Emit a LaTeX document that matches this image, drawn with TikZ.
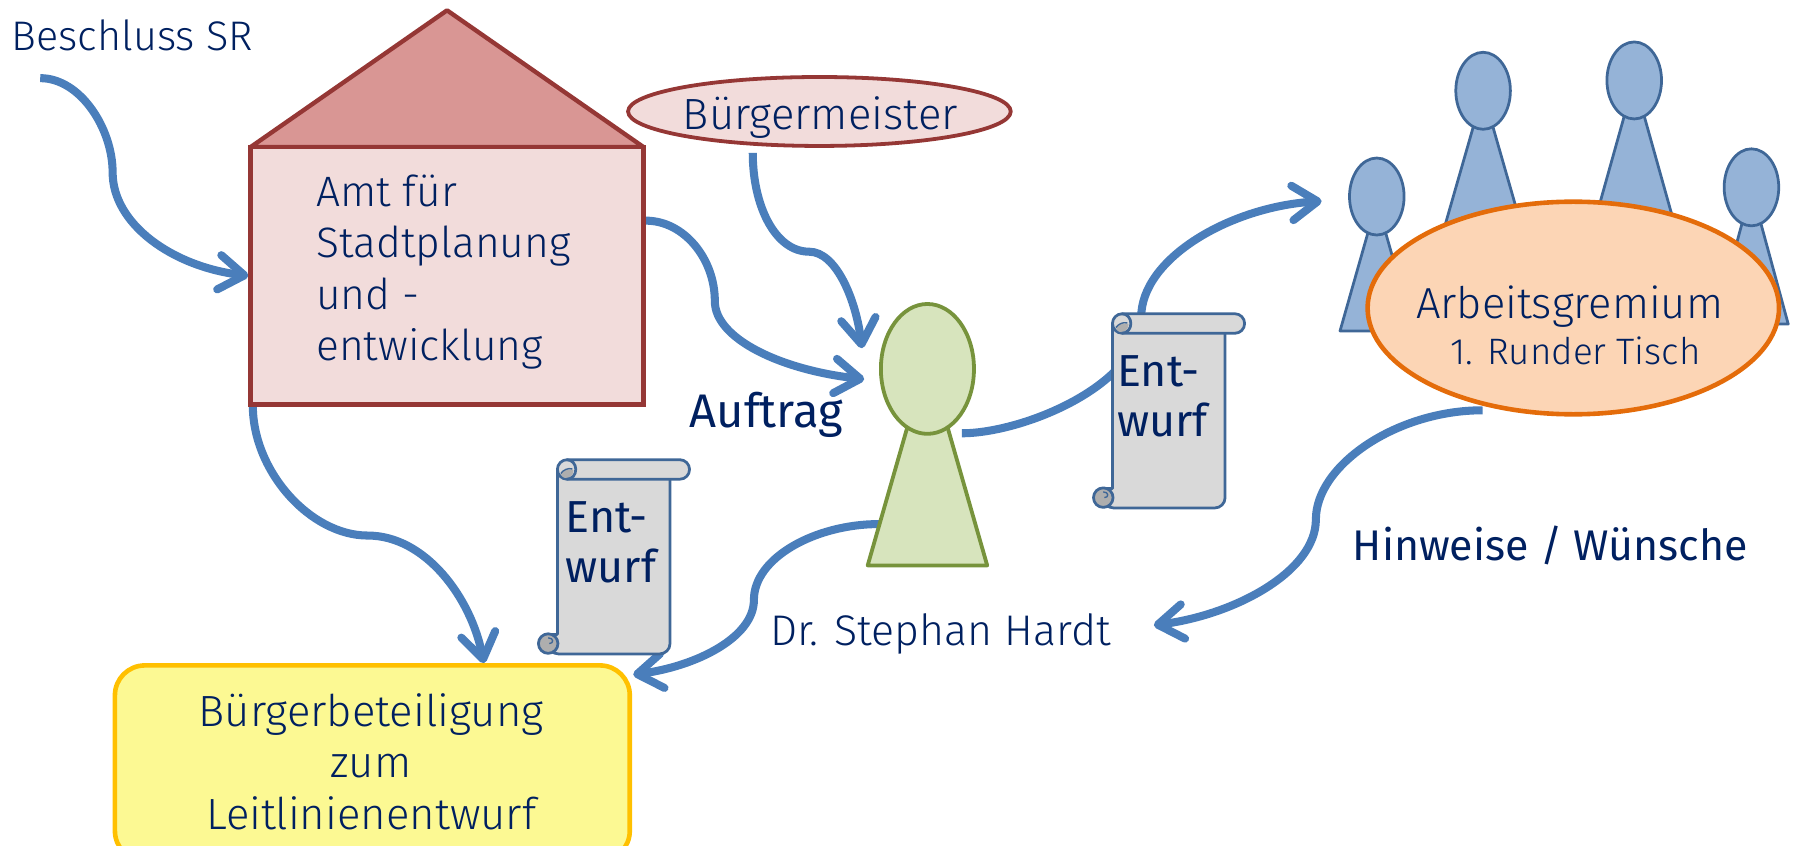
\documentclass[tikz,border=0pt]{standalone}
\usepackage{fontspec}
\setmainfont{Fira Sans Light}
\newfontfamily\regf{Fira Sans}
\usetikzlibrary{arrows.meta,shapes.geometric,backgrounds}
\definecolor{txt}{HTML}{002060}
\definecolor{flow}{HTML}{4A7EBB}
\definecolor{redl}{HTML}{953735}
\definecolor{redf}{HTML}{F2DCDB}
\definecolor{roof}{HTML}{D99694}
\definecolor{bluef}{HTML}{95B3D7}
\definecolor{bluel}{HTML}{3F6797}
\definecolor{greenf}{HTML}{D7E4BD}
\definecolor{greenl}{HTML}{77933C}
\definecolor{orf}{HTML}{FCD5B5}
\definecolor{orl}{HTML}{E46C0A}
\definecolor{yelf}{HTML}{FCF993}
\definecolor{yell}{HTML}{FFC000}
\definecolor{scrf}{HTML}{D9D9D9}
\definecolor{scrd}{HTML}{AEAEAE}
\tikzset{
  x=1pt,y=-1pt,
  label/.style={text=txt,inner sep=0pt,anchor=base west,font=\fontsize{#1}{#1}\selectfont},
  reglabel/.style={text=txt,inner sep=0pt,anchor=base west,font=\regf\fontsize{#1}{#1}\selectfont},
  multi/.style 2 args={text=txt,inner sep=0pt,font=\fontsize{#1}{#2}\selectfont},
  regmulti/.style 2 args={text=txt,inner sep=0pt,font=\regf\fontsize{#1}{#2}\selectfont},
  flowarrow/.style={draw=flow,line width=7pt,-{Straight Barb[length=22pt,width=30pt,round]}},
  bluepawn/.style={draw=bluel,fill=bluef,line width=2.4pt,line join=round},
  bluehead/.style={ellipse,draw=bluel,fill=bluef,line width=2.4pt,inner sep=0pt,minimum width=47.5pt,minimum height=67pt},
  scrollline/.style={draw=bluel,line width=2.4pt,line join=round},
}
\newcommand{\scrollat}[2]{%
  \begin{scope}[shift={(#1,#2)}]
    \filldraw[scrollline,fill=scrf] (0,8) -- (98,8) [rounded corners=9pt] -- (98,169) -- (-8,169) [sharp corners] -- (-8,152) -- (0,152) -- cycle;
    \filldraw[scrollline,fill=scrd] (-8,160) circle[radius=8.5];
    \draw[scrollline,line width=1.2pt] (-8,155) .. controls (-3,155) and (-3,160) .. (-7,160);
    \filldraw[scrollline,fill=scrf,rounded corners=8.5pt] (0,0) rectangle (115,17);
    \fill[scrd] (3,12) .. controls (6,8) and (11,8) .. (14,9) .. controls (14,13) and (11,16) .. (8,16) .. controls (5,16) and (3,14) .. (3,12);
    \draw[scrollline] (8,0) .. controls (13,0) and (16,4) .. (16,8.5) .. controls (16,13) and (13,17) .. (8,17);
    \draw[scrollline,line width=1.2pt] (13,8) .. controls (9,7) and (5,9) .. (3,12);
  \end{scope}}
\begin{document}
\begin{tikzpicture}
\useasboundingbox[clip] (0,0) rectangle (1568,736);

% people at the table
\filldraw[bluepawn] (1166,288) -- (1191,200) -- (1205,200) -- (1230,288) -- cycle;
\node[bluehead] (p1) at (1198,171) {};
\filldraw[bluepawn] (1250.5,220) -- (1283.5,105) -- (1297.5,105) -- (1330.5,220) -- cycle;
\node[bluehead] (p2) at (1290.5,79) {};
\filldraw[bluepawn] (1380,220) -- (1415,95) -- (1429,95) -- (1464,220) -- cycle;
\node[bluehead] (p3) at (1422,70) {};
\filldraw[bluepawn] (1492,282) -- (1517,190) -- (1531,190) -- (1556,282) -- cycle;
\node[bluehead] (p4) at (1524,163) {};
\node[ellipse,draw=orl,fill=orf,line width=4pt,inner sep=0pt,minimum width=358pt,minimum height=185pt] (gremium) at (1369,268) {};
\node[label=37.8] (gt1) at (1232,277) {Arbeitsgremium};
\node[label=32] (gt2) at (1262,317) {1. Runder Tisch};

% house
\filldraw[draw=redl,fill=roof,line width=3.8pt,line join=round] (218,128) -- (389,9) -- (560,128) -- cycle;
\node[draw=redl,fill=redf,line width=3.8pt,inner sep=0pt,minimum width=342pt,minimum height=224pt] (amt) at (389,240) {};
\node[multi={37}{44.7},align=left,anchor=north west] (amttext) at (275,152) {Amt für\\Stadtplanung\\und -\\entwicklung};

% mayor
\node[ellipse,draw=redl,fill=redf,line width=3.3pt,inner sep=0pt,minimum width=333pt,minimum height=60pt] (bm) at (713,97) {};
\node[label=38] (bmt) at (594,113) {Bürgermeister};

% planner
\filldraw[draw=greenl,fill=greenf,line width=3.3pt,line join=round] (755,492) -- (790,370) -- (824,370) -- (859,492) -- cycle;
\node[ellipse,draw=greenl,fill=greenf,line width=3.3pt,inner sep=0pt,minimum width=81pt,minimum height=113pt] (hardt) at (807,321) {};
\node[label=37.3] (hardtt) at (670,562) {Dr. Stephan Hardt};

% scrolls
\scrollat{485}{400}
\node[regmulti={39}{44},align=left,anchor=north west] (e1) at (492,436) {Ent-\\wurf};
\scrollat{968}{273}
\node[regmulti={39}{44},align=left,anchor=north west] (e2) at (972,309) {Ent-\\wurf};

% result box
\node[draw=yell,fill=yelf,line width=4pt,rounded corners=26pt,inner sep=0pt,minimum width=448pt,minimum height=170pt] (bb) at (324,664) {};
\node[multi={38}{45},align=center,anchor=north] (bbt) at (323,603) {Bürgerbeteiligung\\zum\\Leitlinienentwurf};

% free labels
\node[label=36] (sr) at (10,44) {Beschluss SR};
\node[reglabel=41] (auf) at (600,372) {Auftrag};
\node[reglabel=37.3] (hw) at (1177,488) {Hinweise / Wünsche};

% connector ends
\coordinate (s1) at (35,68);
\coordinate (s2) at (562,192);
\coordinate (s3) at (655,133);
\coordinate (s4) at (220,353);
\coordinate (s5) at (765,456);
\coordinate (s6) at (837,377);
\coordinate (s7) at (1290,357);
\coordinate (t2) at (752,330);
\coordinate (t3) at (750,303);
\coordinate (t4) at (421,577);
\coordinate (t5) at (551,587);
\coordinate (t6) at (1150,175);
\coordinate (t7) at (1004,544);

\begin{pgfonlayer}{background}
\draw[flowarrow] (s1) .. controls (70,68) and (98,112) .. (98,150) .. controls (98,195) and (150,232) .. (amt.west);
\draw[flowarrow] (s2) .. controls (595,192) and (622,225) .. (622,262) .. controls (622,295) and (680,322) .. (t2);
\draw[flowarrow] (s3) .. controls (655,180) and (675,219) .. (704,219) .. controls (728,219) and (745,262) .. (t3);
\draw[flowarrow] (s4) .. controls (220,410) and (270,466) .. (320,466) .. controls (370,466) and (410,520) .. (t4);
\draw[flowarrow] (s5) .. controls (710,456) and (656,485) .. (656,522) .. controls (656,555) and (605,580) .. (t5);
\draw[flowarrow] (s6) .. controls (890,377) and (993,335) .. (993,276) .. controls (993,225) and (1070,180) .. (t6);
\draw[flowarrow] (s7) .. controls (1215,357) and (1145,405) .. (1145,452) .. controls (1145,497) and (1075,535) .. (t7);
\end{pgfonlayer}
\end{tikzpicture}
\end{document}
